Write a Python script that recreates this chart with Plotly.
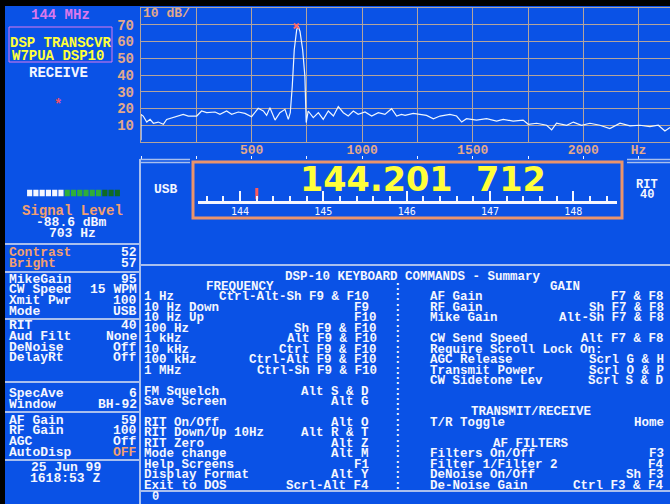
import re
import plotly.graph_objects as go

W, H = 670, 504
BG = "#0a52e6"
TAN = "#e2a98c"
GRID = "#b4a49c"
SEP = "#a9bfee"
WHITE = "#f4f6ff"
ORANGE = "#f2a070"
YELLOW = "#ffff3a"
MAGENTA = "#dc78ec"
MONO = "Liberation Mono"

# ---------------- data ----------------
SPEC_HZ = [0, 0, 10, 26, 41, 56, 78, 101, 116, 139, 169, 191, 214, 252, 274, 297, 335, 357,
           387, 410, 440, 470, 500, 530, 553, 568, 583, 606, 628, 651, 666, 675, 684, 693,
           704, 711, 719, 731, 741, 747, 756, 779, 802, 824, 847, 870, 892, 915, 937, 960,
           982, 1013, 1043, 1073, 1103, 1133, 1156, 1178, 1194, 1216, 1231, 1261, 1291, 1322,
           1352, 1397, 1427, 1450, 1472, 1517, 1563, 1608, 1638, 1683, 1728, 1751, 1789, 1834,
           1857, 1879, 1925, 1955, 1992, 2030, 2075, 2120, 2166, 2211, 2256, 2301, 2339, 2369,
           2392]
SPEC_DB = [1.0, 16.5, 15.5, 11.9, 13.5, 11.2, 11.9, 10.6, 13.5, 14.5, 15.5, 16.5, 15.5, 15.5,
           18.5, 17.5, 17.9, 16.5, 18.5, 16.5, 17.9, 17.1, 15.1, 20.1, 18.5, 15.9, 20.5, 13.1,
           17.5, 19.5, 13.5, 17.5, 33.3, 55.1, 67.0, 69.0, 66.0, 55.1, 39.3, 11.6, 18.5, 14.5,
           17.5, 13.5, 18.5, 15.5, 21.1, 17.5, 15.5, 18.5, 16.5, 17.9, 15.5, 17.5, 16.5, 19.9,
           15.5, 16.5, 15.9, 16.5, 17.1, 16.5, 15.9, 13.9, 15.5, 16.5, 15.5, 11.9, 13.9, 13.1,
           13.9, 12.5, 13.5, 12.5, 13.1, 10.6, 11.2, 10.0, 7.2, 11.2, 10.0, 11.9, 10.0, 11.2,
           10.0, 8.0, 11.2, 9.6, 10.0, 9.2, 10.0, 6.6, 8.6]
PEAK_HZ = 703
PEAK_DB = 69.3
DB_TICKS = [10, 20, 30, 40, 50, 60, 70]
HZ_TICKS = [500, 1000, 1500, 2000, 2250]
HZ_TICK_TEXT = ["500", "1000", "1500", "2000", "Hz"]

FREQ_MHZ = 144.201712
SCALE_TICKS = [144, 145, 146, 147, 148]

METER_SEGMENTS = [1, 2, 3, 4, 5, 6, 7, 8, 9, 10, 11, 12, 13, 14, 15]
METER_COLORS = ["#f4f6ff"] * 6 + ["#2fae3a"] * 6 + ["#0f6a22"] * 3

LEFT_LABELS = ["Contrast", "Bright", "MikeGain", "CW Speed", "Xmit Pwr", "Mode", "RIT",
               "Aud Filt", "DeNoise", "DelayRt", "SpecAve", "Window", "AF Gain", "RF Gain",
               "AGC", "AutoDisp"]
LEFT_VALUES = ["52", "57", "95", "15 WPM", "100", "USB", "40", "None", "Off", "Off", "6",
               "BH-92", "59", "100", "Off", "OFF"]

KB_TITLE = "               DSP-10 KEYBOARD COMMANDS - Summary"
KB_LEFT = [
    "       FREQUENCY",
    "1 Hz   Ctrl-Alt-Sh F9 & F10",
    "10 Hz Down               F9",
    "10 Hz Up                 F10",
    "100 Hz           Sh F9 & F10",
    "1 kHz           Alt F9 & F10",
    "10 kHz         Ctrl F9 & F10",
    "100 kHz    Ctrl-Alt F9 & F10",
    "1 MHz       Ctrl-Sh F9 & F10",
    "",
    "FM Squelch        Alt S & D",
    "Save Screen           Alt G",
    "",
    "RIT On/Off            Alt O",
    "RIT Down/Up 10Hz  Alt R & T",
    "RIT Zero              Alt Z",
    "Mode change           Alt M",
    "Help Screens             F1",
    "Display Format        Alt Y",
    "Exit to DOS     Scrl-Alt F4",
]
KB_RIGHT = [
    "              GAIN",
    "AF Gain              F7 & F8",
    "RF Gain           Sh F7 & F8",
    "Mike Gain     Alt-Sh F7 & F8",
    "",
    "CW Send Speed    Alt F7 & F8",
    "Require Scroll Lock On:",
    "AGC Release       Scrl G & H",
    "Transmit Power    Scrl O & P",
    "CW Sidetone Lev   Scrl S & D",
    "",
    "",
    "    TRANSMIT/RECEIVE",
    "T/R Toggle              Home",
    "",
    "       AF FILTERS",
    "Filters On/Off            F3",
    "Filter 1/Filter 2         F4",
    "DeNoise On/Off         Sh F3",
    "De-Noise Gain   Ctrl F3 & F4",
]

# ---------------- layout constants ----------------
LEFT_ROW_Y = [252, 263.5, 279, 289.5, 300, 311, 325, 336, 347, 357.5, 393.5, 404, 420, 430.5,
              441, 452]
KB_ROW0_Y = 287.0
KB_PITCH = 10.45
KB_COL0_X = 143.0
KB_CHAR = 8.43
KB_FONT = 12.5
LP_FONT = 13


def fx(x):
    return x / W


def fy(y):
    return 1 - y / H


annotations = []
shapes = []


def txt(x, y, s, color=WHITE, size=14, anchor="left", family=MONO, weight="bold"):
    annotations.append(dict(
        x=fx(x), y=fy(y), xref="paper", yref="paper",
        text=s.replace(" ", "\u00a0"), showarrow=False,
        xanchor=anchor, yanchor="middle", borderpad=0,
        font=dict(family=family, size=size, color=color, weight=weight)))


def hline(x0, x1, y, color=SEP, width=2):
    shapes.append(dict(type="line", xref="paper", yref="paper", x0=fx(x0), x1=fx(x1),
                       y0=fy(y), y1=fy(y), line=dict(color=color, width=width)))


def vline(x, y0, y1, color=SEP, width=2):
    shapes.append(dict(type="line", xref="paper", yref="paper", x0=fx(x), x1=fx(x),
                       y0=fy(y0), y1=fy(y1), line=dict(color=color, width=width)))


def rect(x0, y0, x1, y1, line=None, fill=None, width=1):
    d = dict(type="rect", xref="paper", yref="paper", x0=fx(x0), x1=fx(x1),
             y0=fy(y1), y1=fy(y0), line=dict(width=0 if line is None else width,
                                               color=line or "rgba(0,0,0,0)"))
    if fill:
        d["fillcolor"] = fill
    shapes.append(d)


def kb_row(s, col_offset, y):
    """Place one row of the monospace keyboard screen."""
    if not s.strip():
        return
    lead = len(s) - len(s.lstrip(" "))
    body = s.strip()
    parts = re.split(r"\s{2,}", body)
    if lead > 0 and len(parts) == 1:
        cx = KB_COL0_X + (col_offset + lead + len(body) / 2) * KB_CHAR
        txt(cx, y, body, size=KB_FONT, anchor="center")
        return
    txt(KB_COL0_X + (col_offset + lead) * KB_CHAR - 0.5, y, parts[0], size=KB_FONT)
    if len(parts) > 1:
        txt(KB_COL0_X + (col_offset + len(s)) * KB_CHAR - 1, y, parts[-1], size=KB_FONT,
            anchor="right")


# ---------------- figure ----------------
fig = go.Figure()

fig.add_trace(go.Scatter(x=SPEC_HZ, y=SPEC_DB, mode="lines", xaxis="x", yaxis="y",
                         line=dict(color="#eef6ff", width=1.2), hoverinfo="skip"))
fig.add_trace(go.Scatter(x=[PEAK_HZ], y=[PEAK_DB], mode="markers", xaxis="x", yaxis="y",
                         marker=dict(symbol="x-thin", size=5,
                                     line=dict(color="#ff6a6a", width=2)),
                         hoverinfo="skip"))
fig.add_trace(go.Scatter(x=[None], y=[None], xaxis="x4", yaxis="y", mode="lines",
                         hoverinfo="skip"))
fig.add_trace(go.Scatter(x=[FREQ_MHZ], y=[0.55], mode="markers", xaxis="x2", yaxis="y2",
                         marker=dict(symbol="line-ns", size=8,
                                     line=dict(color="#ff5a5a", width=3)),
                         hoverinfo="skip"))
fig.add_trace(go.Bar(x=METER_SEGMENTS, y=[1] * len(METER_SEGMENTS), xaxis="x3", yaxis="y3",
                     marker=dict(color=METER_COLORS, line=dict(width=0)), hoverinfo="skip"))

# --- static panel shapes
rect(0, 0, W, 6, fill="#000000")
rect(0, 0, 5, H, fill="#000000")
rect(9, 27, 112, 62, line=MAGENTA, width=1)
for y in [244, 272, 319, 382, 412, 460]:
    hline(5, 140, y)
vline(140, 159, H)
hline(140, 190, 159.5, width=1.5)
hline(140, 190, 162.5, width=1.5)
hline(627, 670, 159.5, width=1.5)
hline(627, 670, 162.5, width=1.5)
shapes.append(dict(type="rect", xref="paper", yref="paper", x0=fx(193), x1=fx(622),
                   y0=fy(218), y1=fy(162), line=dict(color="#ea946c", width=3)))
hline(140, 670, 265)
hline(140, 670, 491)

# --- left panel text
txt(60, 15, "144 MHz", color=MAGENTA, anchor="center")
txt(60, 43, "DSP TRANSCVR", color=YELLOW, anchor="center")
txt(58, 55.5, "W7PUA DSP10", color=YELLOW, anchor="center")
txt(59, 73, "RECEIVE", anchor="center")
txt(58, 105, "*", color="#f0506a", anchor="center")
txt(72.5, 211, "Signal Level", color=ORANGE, anchor="center")
txt(71, 222, "-88.6 dBm", anchor="center", size=LP_FONT)
txt(72, 233, "703 Hz", anchor="center", size=LP_FONT)
for i, (lab, val) in enumerate(zip(LEFT_LABELS, LEFT_VALUES)):
    y = LEFT_ROW_Y[i]
    txt(7.5, y, lab, size=LP_FONT,
        color=ORANGE if lab in ("Contrast", "Bright") else WHITE)
    txt(138, y, val, size=LP_FONT, color=ORANGE if val == "OFF" else WHITE, anchor="right")
txt(66, 467.5, "25 Jun 99", anchor="center", size=LP_FONT)
txt(65, 478, "1618:53 Z", anchor="center", size=LP_FONT)

# --- spectrum label
txt(142, 13, "10 dB/", color=TAN, size=13)

# --- frequency display
f = f"{FREQ_MHZ:.6f}"
txt(423, 179, f[:7] + "\u2007" + f[7:], color=YELLOW, size=33.5, anchor="center",
    family="DejaVu Sans")
txt(165.5, 189, "USB", size=13, anchor="center")
txt(646.5, 185, "RIT", size=12, anchor="center")
txt(646.5, 195.5, "40", size=12, anchor="center")

# --- keyboard commands
kb_row(KB_TITLE, 0, KB_ROW0_Y - KB_PITCH)
for i, s in enumerate(KB_LEFT):
    y = KB_ROW0_Y + i * KB_PITCH
    kb_row(s, 0, y)
    txt(KB_COL0_X + 30.5 * KB_CHAR - 2, y, ":", size=KB_FONT, anchor="center")
for i, s in enumerate(KB_RIGHT):
    kb_row(s, 34, KB_ROW0_Y + i * KB_PITCH)
txt(155, 496.5, "0", anchor="center", size=12)

axis_font = dict(family=MONO, size=13, color=TAN, weight="bold")
fig.update_layout(
    width=W, height=H, margin=dict(l=0, r=0, t=0, b=0),
    paper_bgcolor=BG, plot_bgcolor=BG, showlegend=False, bargap=0.18,
    xaxis=dict(domain=[fx(141), 1], range=[0, 2392], tickvals=HZ_TICKS,
               ticktext=HZ_TICK_TEXT, ticks="", showgrid=True, gridcolor=GRID,
               gridwidth=1.4, minor=dict(dtick=250, tick0=0, showgrid=True,
                                         gridcolor=GRID, gridwidth=1.4),
               showline=True, linecolor=GRID, linewidth=1.4, mirror=True,
               zeroline=False, tickfont=axis_font, ticklabelstandoff=-5,
               fixedrange=True, anchor="y"),
    yaxis=dict(domain=[fy(142), fy(8)], range=[0, 80], tickvals=DB_TICKS, ticks="",
               showgrid=True, gridcolor=GRID, gridwidth=1.4, showline=True,
               linecolor=GRID, linewidth=1.4, zeroline=False,
               tickfont=dict(family=MONO, size=14, color=TAN, weight="bold"),
               ticklabelstandoff=3, fixedrange=True, anchor="x"),
    xaxis4=dict(overlaying="x", matches="x", anchor="free", position=fy(155),
                showline=False, showgrid=False, zeroline=False, showticklabels=False,
                ticks="outside", ticklen=3, tickcolor=WHITE, tickwidth=1,
                tickmode="linear", tick0=0, dtick=250),
    xaxis2=dict(domain=[fx(198.3), fx(616.7)], range=[143.5, 148.52], anchor="y2",
                tickvals=SCALE_TICKS, ticktext=[str(t) for t in SCALE_TICKS],
                ticks="inside", ticklen=10, tickwidth=1.5, tickcolor=WHITE,
                minor=dict(dtick=0.2, tick0=0, ticks="inside", ticklen=5,
                           tickwidth=1.5, tickcolor=WHITE, showgrid=False),
                showline=True, linecolor=WHITE, linewidth=3, showgrid=False,
                zeroline=False, tickfont=dict(family="DejaVu Sans Mono", size=10,
                                              color=WHITE),
                ticklabelstandoff=-1, fixedrange=True),
    yaxis2=dict(domain=[fy(200.5), fy(188)], range=[0, 1], visible=False,
                anchor="x2", fixedrange=True),
    xaxis3=dict(domain=[fx(26.5), fx(120.5)], range=[0.5, 15.5], visible=False,
                anchor="y3", fixedrange=True),
    yaxis3=dict(domain=[fy(196.5), fy(189.5)], range=[0, 1], visible=False,
                anchor="x3", fixedrange=True),
    shapes=shapes, annotations=annotations,
)

fig.write_html("out.html", include_plotlyjs=True, config={"displayModeBar": False},
               post_script="document.body.style.margin='0';"
                           "document.body.style.padding='0';"
                           "document.documentElement.style.overflow='hidden';")
